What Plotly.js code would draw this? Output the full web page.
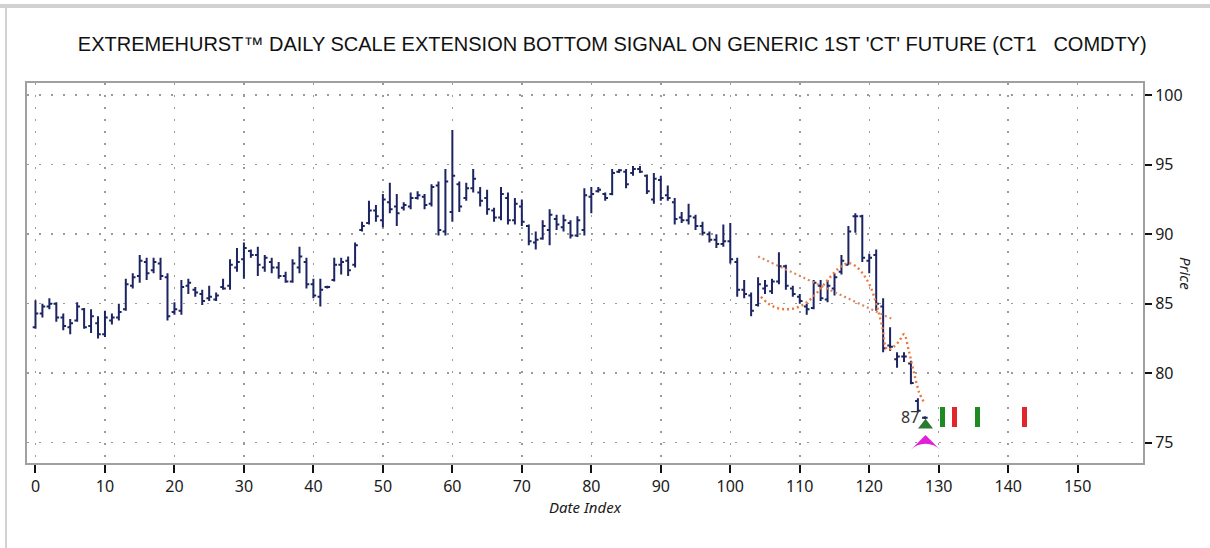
<!DOCTYPE html>
<html>
<head>
<meta charset="utf-8">
<script src="https://cdn.plot.ly/plotly-3.0.1.min.js"></script>
<style>
html,body{margin:0;padding:0;background:#fff;}
#chart{width:1210px;height:548px;}
</style>
</head>
<body>
<div id="chart"></div>
<script>
// ---- data ----
const highs = [85.25,85.0,85.4,85.1,84.3,83.9,85.1,84.7,84.6,84.1,84.5,84.3,85.0,86.8,87.2,88.5,88.3,88.3,88.3,87.2,
85.1,86.7,86.8,86.2,86.0,86.3,85.8,86.8,88.2,89.0,89.4,88.9,89.1,88.5,88.3,88.0,87.3,88.2,89.1,88.3,
86.8,86.8,86.3,88.3,88.3,88.4,89.4,90.9,92.4,92.1,92.9,93.7,92.9,92.3,93.0,93.1,92.9,93.6,93.8,94.7,
97.5,93.8,93.7,94.7,93.4,93.2,91.9,93.4,93.0,92.6,92.5,90.7,90.2,91.0,91.8,91.4,91.4,91.0,91.3,93.3,
93.4,93.4,93.0,94.7,94.7,94.7,94.9,94.9,94.3,94.4,94.2,93.5,92.6,91.6,92.2,91.4,90.9,90.2,90.0,90.7,
90.8,88.3,86.7,85.8,86.9,86.7,86.8,88.7,87.8,86.3,85.7,85.0,86.7,86.7,86.7,87.2,88.5,90.6,91.5,91.4,
88.6,88.9,85.4,83.3,81.5,81.5,80.9,78.2,76.9];
const lows = [83.2,84.0,84.6,83.7,83.1,82.8,83.7,83.2,82.9,82.5,82.6,83.5,83.8,84.5,86.1,86.5,86.7,87.2,86.7,83.8,
84.2,84.2,85.7,85.5,84.9,85.2,85.2,86.0,86.0,87.3,86.8,88.3,87.0,87.3,87.2,86.8,86.5,86.5,87.2,86.1,
85.4,84.8,86.1,86.6,87.1,87.0,87.6,90.2,90.7,90.9,90.5,91.5,90.6,91.7,91.8,92.5,91.8,92.0,89.9,89.9,
90.9,91.6,92.4,93.0,92.0,91.4,90.9,91.0,90.7,90.7,90.6,89.2,88.9,89.6,89.2,90.3,90.2,89.7,89.8,89.9,
91.5,93.0,92.4,92.8,94.4,93.3,94.2,94.4,92.9,92.2,92.4,92.4,90.7,90.8,90.7,90.3,89.9,89.4,89.0,89.1,
87.9,85.5,85.4,84.1,84.8,85.7,85.7,86.4,86.0,85.5,85.0,84.2,84.6,85.2,85.1,85.6,87.1,87.8,90.1,88.0,
87.2,84.5,81.5,81.6,80.4,80.8,79.2,77.2,76.7];
const opens = [83.3,84.3,84.8,85.0,84.0,83.3,83.8,84.6,83.4,83.6,82.8,83.8,84.0,84.6,86.3,87.0,88.0,87.4,87.9,86.9,
84.4,84.5,86.3,86.0,85.7,85.4,85.3,86.2,86.3,87.6,88.2,88.8,88.5,87.6,88.0,87.6,87.0,86.6,87.6,88.0,
86.4,85.5,86.2,86.7,87.8,88.1,87.8,90.3,90.8,91.7,91.0,92.3,92.0,91.9,92.0,92.6,92.7,92.2,93.5,90.2,
91.6,93.6,92.6,93.3,93.0,92.6,91.7,91.2,92.6,91.0,92.0,90.6,89.4,89.7,90.3,91.1,90.5,90.8,89.9,90.3,
92.7,93.1,92.9,92.9,94.5,94.5,94.4,94.7,94.2,92.5,93.9,92.8,92.3,91.2,91.0,91.2,90.6,90.0,89.6,89.3,
89.5,88.0,86.0,85.6,84.9,86.1,85.9,86.6,87.7,86.1,85.5,84.8,84.7,86.3,85.3,86.1,87.3,87.8,91.3,91.3,
88.1,88.5,84.8,82.0,81.0,81.2,80.7,78.0,76.8];
const closes = [84.3,84.8,85.0,84.0,83.4,83.6,84.8,83.3,84.1,82.8,84.0,84.0,84.4,86.4,86.9,88.1,87.2,88.0,87.0,84.1,
84.6,86.2,86.5,85.8,85.2,85.5,85.6,86.1,87.8,88.0,89.0,88.5,87.8,88.3,87.6,87.0,86.6,87.9,88.4,86.4,
85.6,86.0,86.2,87.8,88.0,87.4,89.2,90.6,91.7,91.3,92.5,91.8,91.5,92.1,92.6,92.8,92.1,93.4,90.3,93.8,
94.2,92.0,93.3,94.0,92.4,91.8,91.2,92.9,91.0,92.2,90.9,89.5,89.6,90.6,91.4,90.7,91.0,89.9,91.0,92.8,
92.9,93.2,92.6,94.4,94.6,93.6,94.7,94.5,93.1,94.0,92.6,92.6,91.1,91.0,91.3,90.6,90.1,89.6,89.3,89.5,
88.2,86.0,85.7,84.5,86.4,86.3,86.6,87.7,86.3,85.7,85.2,84.6,86.5,85.4,86.3,86.9,88.1,90.2,91.3,88.3,
88.3,85.0,81.8,81.9,81.2,81.2,79.3,77.3,76.8];
const dateIndex = highs.map((_, k) => k);

// dotted projection curves
const trendLineX = [104, 123.3];
const trendLineY = [88.4, 83.9];
const curveX = [104.4, 105.5, 106.7, 108, 109.5, 111, 112.5, 114, 115.5, 116.5, 117.3, 118.3, 119.3, 120.2, 121, 121.8, 122.6, 123.5, 124.3, 125.0, 125.7, 126.5, 127.2, 127.9];
const curveY = [85.5, 85.0, 84.7, 84.6, 84.7, 85.1, 85.8, 86.7, 87.5, 87.85, 87.9, 87.6, 87.0, 86.2, 85.0, 83.5, 81.7, 81.9, 82.3, 82.8, 81.6, 79.9, 78.6, 77.9];

// cycle signal markers
const signalX = [130.6, 132.3, 135.6, 142.4];
const signalColors = ['#1d8a24', '#e3262b', '#1d8a24', '#e3262b'];
const signalLow = 76.15, signalHigh = 77.55;

const lastLabel = '87';
const lastX = 128.1;

const title = "EXTREMEHURST\u2122 DAILY SCALE EXTENSION BOTTOM SIGNAL ON GENERIC 1ST 'CT' FUTURE (CT1   COMDTY)";
const xTicks = [0,10,20,30,40,50,60,70,80,90,100,110,120,130,140,150];
const yTicks = [75,80,85,90,95,100];

const navy = '#1c2462';
const tickFont = {family: 'Noto Sans, Open Sans, sans-serif', size: 16, color: '#1a1a1a'};

const traces = [
  {
    type: 'scatter', mode: 'lines', x: trendLineX, y: trendLineY,
    line: {color: '#d98a62', width: 2.2, dash: '2px,3px'}, hoverinfo: 'skip'
  },
  {
    type: 'scatter', mode: 'lines', x: curveX, y: curveY, line: {shape: 'spline', color: '#ec7a3c', width: 2.4, dash: '2px,3px'},
    hoverinfo: 'skip'
  },
  {
    type: 'ohlc', x: dateIndex, open: opens, high: highs, low: lows, close: closes,
    increasing: {line: {color: navy, width: 2}}, decreasing: {line: {color: navy, width: 2}},
    tickwidth: 0.4, hoverinfo: 'skip'
  },
  {
    type: 'bar', x: signalX, y: signalX.map(() => signalHigh - signalLow), base: signalLow,
    width: 0.7, marker: {color: signalColors, line: {width: 0}}, hoverinfo: 'skip'
  },
  {
    type: 'scatter', mode: 'markers', x: [lastX], y: [75.55],
    marker: {symbol: 'arrow-wide', size: 21, color: '#e21fd8', line: {width: 0}}, hoverinfo: 'skip'
  },
  {
    type: 'scatter', mode: 'markers', x: [lastX], y: [76.25],
    marker: {symbol: 'triangle-up', size: 13, color: '#2a7a32', line: {width: 0}}, hoverinfo: 'skip'
  }
];

const layout = {
  width: 1210, height: 548,
  paper_bgcolor: '#ffffff', plot_bgcolor: '#ffffff',
  margin: {l: 27, r: 67, t: 83, b: 85},
  showlegend: false,
  bargap: 0,
  title: {
    text: title, x: 0.506, xref: 'container', xanchor: 'center',
    y: 0.92, yref: 'container', yanchor: 'middle',
    font: {family: 'Liberation Sans, Arial, sans-serif', size: 20, color: '#111'}
  },
  xaxis: {
    range: [-1.22, 159.4], tickmode: 'array', tickvals: xTicks, ticktext: xTicks.map(String),
    showgrid: true, gridcolor: '#9a9a9a', gridwidth: 1.5, griddash: '2px,10px',
    zeroline: false, showline: true, linecolor: '#a0a0a0', linewidth: 2, mirror: true,
    ticks: 'outside', ticklen: 8, tickwidth: 2, tickcolor: '#111',
    tickfont: tickFont, rangeslider: {visible: false},
    title: {text: 'Date Index', standoff: 4, font: {family: 'Noto Sans, Open Sans, sans-serif', size: 15, color: '#1a1a1a', style: 'italic'}}
  },
  yaxis: {
    range: [73.54, 100.88], side: 'right', tickmode: 'array', tickvals: yTicks, ticktext: yTicks.map(String),
    showgrid: true, gridcolor: '#9a9a9a', gridwidth: 1.5, griddash: '2px,10px',
    zeroline: false, showline: true, linecolor: '#a0a0a0', linewidth: 2, mirror: true,
    ticks: 'outside', ticklen: 7, tickwidth: 2, tickcolor: '#111',
    tickfont: tickFont
  },
  annotations: [
    {
      text: 'Price', textangle: 90, xref: 'paper', yref: 'paper', x: 1, y: 0.5,
      xanchor: 'center', yanchor: 'middle', xshift: 43, showarrow: false,
      font: {family: 'Noto Sans, Open Sans, sans-serif', size: 15, color: '#1a1a1a', style: 'italic'}
    },
    {
      text: lastLabel, x: 127.5, y: 76.85, xref: 'x', yref: 'y', xanchor: 'right', yanchor: 'middle',
      showarrow: false, font: {family: 'Noto Sans, Open Sans, sans-serif', size: 16, color: '#333'}
    }
  ],
  shapes: [
    {type: 'line', xref: 'paper', yref: 'paper', x0: -0.03, x1: 1.1, y0: 1 + 77/380, y1: 1 + 77/380, line: {color: '#d2d2d2', width: 4}},
    {type: 'line', xref: 'paper', yref: 'paper', x0: -21/1116, x1: -21/1116, y0: -85/380, y1: 1 + 77/380, line: {color: '#d2d2d2', width: 2}}
  ]
};

Plotly.newPlot('chart', traces, layout, {displayModeBar: false, staticPlot: true});
</script>
</body>
</html>
